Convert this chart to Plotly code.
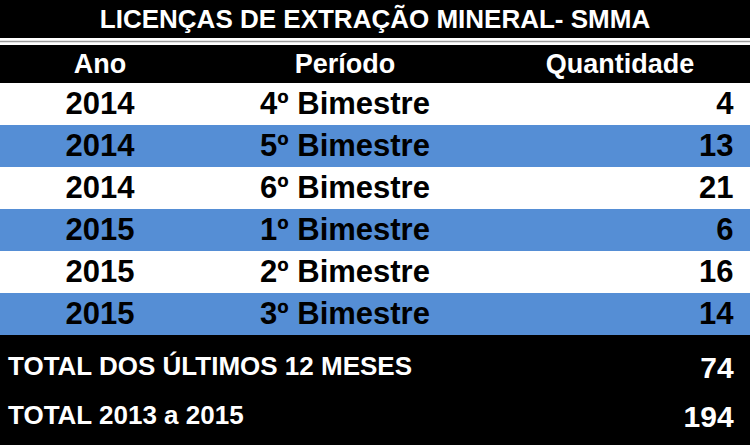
import plotly.graph_objects as go

title = "LICENÇAS DE EXTRAÇÃO MINERAL- SMMA"
columns = ["Ano", "Período", "Quantidade"]
anos = ["2014", "2014", "2014", "2015", "2015", "2015"]
periodos = ["4º Bimestre", "5º Bimestre", "6º Bimestre",
            "1º Bimestre", "2º Bimestre", "3º Bimestre"]
quantidades = [4, 13, 21, 6, 16, 14]
total_labels = ["TOTAL DOS ÚLTIMOS 12 MESES", "TOTAL 2013 a 2015"]
total_values = [74, 194]

W, H = 750, 445
BLUE = "#558ed5"
FONT = "Liberation Sans"
NBSP = "\u00a0"


def ydom(top_px, bottom_px):
    return [1 - bottom_px / H, 1 - top_px / H]


row_fill = ["white" if i % 2 == 0 else BLUE for i in range(len(anos))]

fig = go.Figure()

# title band
fig.add_trace(go.Table(
    domain=dict(x=[0, 1], y=ydom(0, 39)),
    header=dict(values=[title], height=38, fill_color="black",
                line=dict(color="black", width=0), align="center",
                font=dict(family=FONT, size=26, color="white", weight="bold")),
    cells=dict(values=[[]], height=1),
))

# main table
fig.add_trace(go.Table(
    domain=dict(x=[0, 1], y=ydom(45, 336)),
    columnwidth=[200, 290, 260],
    header=dict(values=columns, height=38, fill_color="black",
                line=dict(color="black", width=0), align="center",
                font=dict(family=FONT, size=27, color="white", weight="bold")),
    cells=dict(values=[anos, periodos, quantidades], height=42,
               fill_color=[row_fill], line=dict(color=[row_fill], width=0),
               align=["center", "center", "right"], suffix=["", "", NBSP],
               font=dict(family=FONT, size=31, color="black", weight="bold")),
))

# totals
fig.add_trace(go.Table(
    domain=dict(x=[0, 1], y=ydom(335, 445)),
    columnwidth=[560, 190],
    header=dict(values=["", ""], height=12, fill_color="black",
                line=dict(color="black", width=0)),
    cells=dict(values=[total_labels, total_values], height=49,
               fill_color="black", line=dict(color="black", width=0),
               align=["left", "right"], suffix=["", NBSP],
               font=dict(family=FONT, size=[26, 30], color="white", weight="bold")),
))

fig.add_shape(type="line", xref="paper", yref="paper", x0=0, x1=1,
              y0=1 - 41.5 / H, y1=1 - 41.5 / H,
              line=dict(color="#9a9a9a", width=1.5))

fig.update_layout(width=W, height=H, margin=dict(l=0, r=0, t=0, b=0),
                  paper_bgcolor="white", plot_bgcolor="white")

fig.write_html("out.html", config={"displayModeBar": False},
               post_script="document.body.style.margin = '0';")
